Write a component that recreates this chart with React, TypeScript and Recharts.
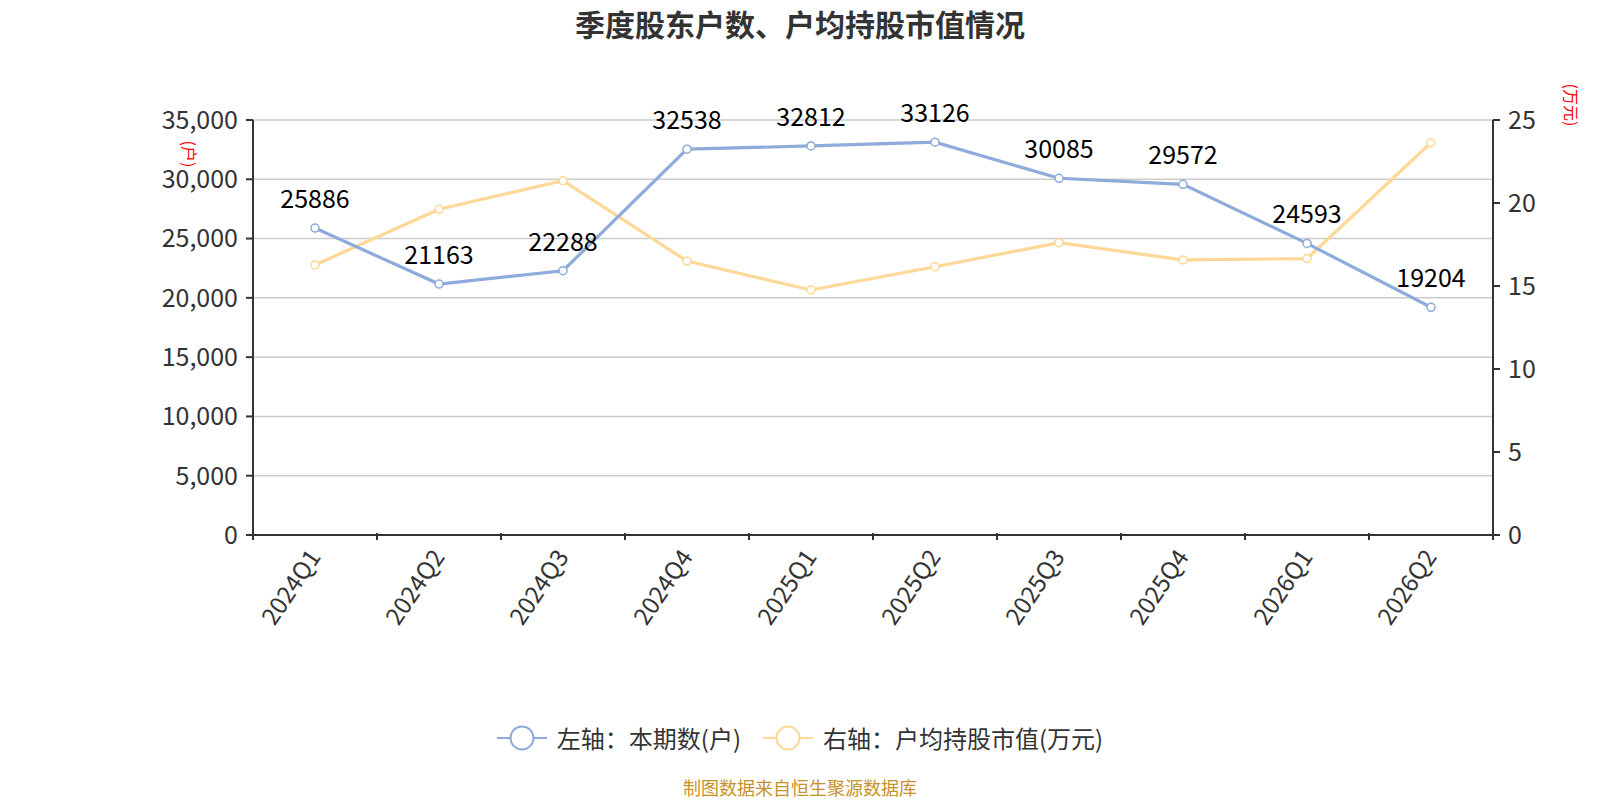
import { ComposedChart, Line, XAxis, YAxis, CartesianGrid, Legend, LabelList } from "recharts";

const quarters = ["2024Q1", "2024Q2", "2024Q3", "2024Q4", "2025Q1", "2025Q2", "2025Q3", "2025Q4", "2026Q1", "2026Q2"];
const holders = [25886, 21163, 22288, 32538, 32812, 33126, 30085, 29572, 24593, 19204];
const avgValue = [16.27, 19.62, 21.34, 16.5, 14.76, 16.16, 17.61, 16.57, 16.65, 23.63];
const leftTicks = [0, 5000, 10000, 15000, 20000, 25000, 30000, 35000];
const rightTicks = [0, 5, 10, 15, 20, 25];

const BLUE = "#8eabdb";
const ORANGE = "#ffd796";
const FONT = "'Noto Sans CJK SC', 'Noto Sans', sans-serif";

const data = quarters.map((q, i) => ({ q, holders: holders[i], avg: avgValue[i] }));

// 类目轴：刻度线画在类目边界上，文字在中间
function QuarterTick(props: any) {
  const { x, y, payload, index, width, visibleTicksCount } = props;
  const band = width / visibleTicksCount;
  const axisY = y - 10;
  return (
    <g>
      <line x1={x - band / 2} x2={x - band / 2} y1={axisY} y2={axisY + 7} stroke="#333" strokeWidth={2} />
      {index === visibleTicksCount - 1 && (
        <line x1={x + band / 2} x2={x + band / 2} y1={axisY} y2={axisY + 7} stroke="#333" strokeWidth={2} />
      )}
      <text
        x={0}
        y={0}
        transform={`translate(${x - 2}, ${y + 8}) rotate(-56)`}
        textAnchor="end"
        dominantBaseline="central"
        fontSize={24}
        fill="#333"
        fontFamily={FONT}
      >
        {payload.value}
      </text>
    </g>
  );
}

function LegendContent() {
  const items = [
    { label: "左轴：本期数(户)", color: BLUE },
    { label: "右轴：户均持股市值(万元)", color: ORANGE },
  ];
  return (
    <div style={{ display: "flex", justifyContent: "center", gap: 22, fontFamily: FONT, fontSize: 24, color: "#333" }}>
      {items.map((it) => (
        <div key={it.label} style={{ display: "flex", alignItems: "center", gap: 10 }}>
          <svg width={50} height={28}>
            <line x1={0} x2={50} y1={14} y2={14} stroke={it.color} strokeWidth={2} />
            <circle cx={25} cy={14} r={11.5} fill="#fff" stroke={it.color} strokeWidth={2} />
          </svg>
          <span>{it.label}</span>
        </div>
      ))}
    </div>
  );
}

export default function App() {
  return (
    <div style={{ position: "absolute", left: 0, top: 0, width: 1600, height: 800, background: "#fff", overflow: "hidden" }}>
      <div
        style={{
          position: "absolute",
          top: 5,
          width: 1600,
          textAlign: "center",
          fontFamily: FONT,
          fontSize: 30,
          lineHeight: "36px",
          fontWeight: "bold",
          color: "#333",
        }}
      >
        季度股东户数、户均持股市值情况
      </div>
      <ComposedChart width={1600} height={800} data={data} margin={{ top: 120, right: 0, bottom: 0, left: 0 }}>
        <CartesianGrid yAxisId="left" vertical={false} stroke="#ccc" strokeWidth={1.5} />
        <XAxis
          dataKey="q"
          scale="band"
          height={265}
          axisLine={{ stroke: "#333", strokeWidth: 2 }}
          tickLine={false}
          tick={<QuarterTick />}
          interval={0}
        />
        <YAxis
          yAxisId="left"
          width={253}
          domain={[0, 35000]}
          ticks={leftTicks}
          tickFormatter={(v: number) => v.toLocaleString("en-US")}
          axisLine={{ stroke: "#333", strokeWidth: 2 }}
          tickLine={{ stroke: "#333", strokeWidth: 2 }}
          tickSize={7}
          tickMargin={8}
          tick={{ fontSize: 25, fill: "#333", fontFamily: FONT }}
          label={{
            content: ({ viewBox }: any) => (
              <text
                transform={`translate(${viewBox.x + viewBox.width - 63}, ${viewBox.y + 34}) rotate(90)`}
                textAnchor="middle"
                dominantBaseline="central"
                fontSize={16}
                fill="#f00"
                fontFamily={FONT}
              >
                (户)
              </text>
            ),
          }}
        />
        <YAxis
          yAxisId="right"
          orientation="right"
          width={107}
          domain={[0, 25]}
          ticks={rightTicks}
          axisLine={{ stroke: "#333", strokeWidth: 2 }}
          tickLine={{ stroke: "#333", strokeWidth: 2 }}
          tickSize={7}
          tickMargin={8}
          tick={{ fontSize: 25, fill: "#333", fontFamily: FONT }}
          label={{
            content: ({ viewBox }: any) => (
              <text
                transform={`translate(${viewBox.x + 79}, ${viewBox.y - 15}) rotate(90)`}
                textAnchor="middle"
                dominantBaseline="central"
                fontSize={16}
                fill="#f00"
                fontFamily={FONT}
              >
                (万元)
              </text>
            ),
          }}
        />
        <Legend
          verticalAlign="middle"
          align="center"
          content={<LegendContent />}
          wrapperStyle={{ top: 720, left: 0, width: 1600 }}
        />
        <Line
          yAxisId="right"
          dataKey="avg"
          stroke={ORANGE}
          strokeWidth={3.2}
          dot={{ r: 4, fill: "#fff", stroke: ORANGE, strokeWidth: 1.5 }}
          isAnimationActive={false}
        />
        <Line
          yAxisId="left"
          dataKey="holders"
          stroke={BLUE}
          strokeWidth={3.2}
          dot={{ r: 4, fill: "#fff", stroke: BLUE, strokeWidth: 1.5 }}
          isAnimationActive={false}
        >
          <LabelList dataKey="holders" position="top" offset={20} fontSize={25} fill="#000" fontFamily={FONT} />
        </Line>
      </ComposedChart>
      <div
        style={{
          position: "absolute",
          top: 777,
          width: 1600,
          textAlign: "center",
          fontFamily: FONT,
          fontSize: 18,
          lineHeight: "20px",
          color: "#c8922b",
        }}
      >
        制图数据来自恒生聚源数据库
      </div>
    </div>
  );
}
